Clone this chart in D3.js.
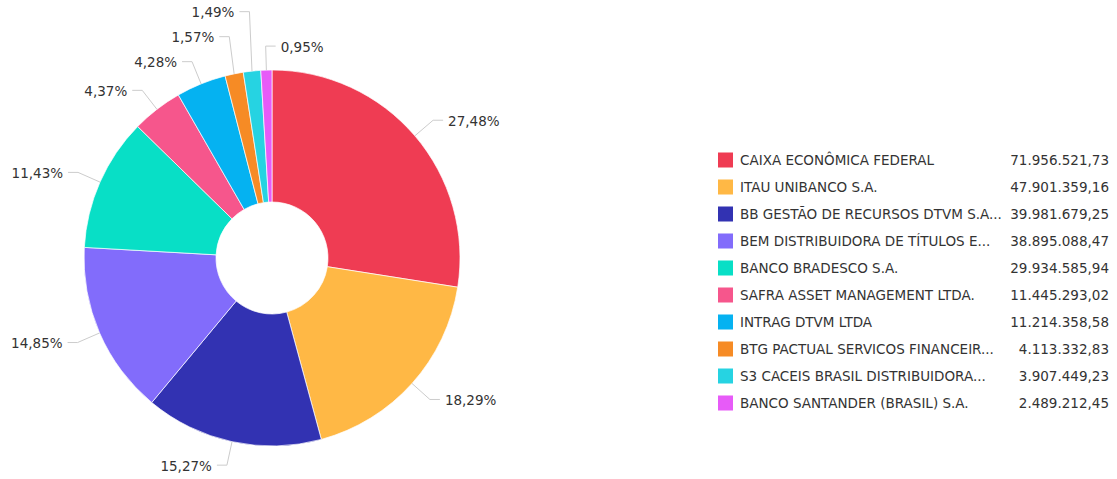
<!DOCTYPE html>
<html>
<head>
<meta charset="utf-8">
<script src="https://cdn.jsdelivr.net/npm/d3@7"></script>
<style>
  body { margin: 0; background: #fff; }
  svg { font-family: "DejaVu Sans", Verdana, sans-serif; }
</style>
</head>
<body>
<svg id="chart"></svg>
<script>
// data
const names = [
  'CAIXA ECONÔMICA FEDERAL',
  'ITAU UNIBANCO S.A.',
  'BB GESTÃO DE RECURSOS DTVM S.A...',
  'BEM DISTRIBUIDORA DE TÍTULOS E...',
  'BANCO BRADESCO S.A.',
  'SAFRA ASSET MANAGEMENT LTDA.',
  'INTRAG DTVM LTDA',
  'BTG PACTUAL SERVICOS FINANCEIR...',
  'S3 CACEIS BRASIL DISTRIBUIDORA...',
  'BANCO SANTANDER (BRASIL) S.A.'
];
const values = [
  71956521.73, 47901359.16, 39981679.25, 38895088.47, 29934585.94,
  11445293.02, 11214358.58, 4113332.83, 3907449.23, 2489212.45
];
const colors = [
  '#ef3c53', '#ffb845', '#3232b2', '#826cfb', '#08dfc6',
  '#f6568c', '#05b2f1', '#f68b25', '#26d3e2', '#e75bf8'
];

const config = {
  width: 1117,
  height: 479,
  cx: 272,
  cy: 258,
  outerR: 188,
  innerR: 56,
  lineLen1: 24,   // radial part of the label line
  lineLen2: 10,   // horizontal part
  textPad: 5,
  minLabelGap: 25,
  legend: { x: 718, y: 160, step: 27, box: 15, textX: 740, valueX: 1109 }
};

const ptBR = d3.formatLocale({ decimal: ',', thousands: '.', grouping: [3], currency: ['R$ ', ''] });
const fmtValue = ptBR.format(',.2f');
const fmtPct = ptBR.format('.2f');

const data = names.map((n, i) => ({ name: n, value: values[i], color: colors[i] }));
const total = d3.sum(values);

const svg = d3.select('#chart')
  .attr('width', config.width)
  .attr('height', config.height);

const pie = d3.pie().sort(null).value(d => d.value);
const arc = d3.arc().innerRadius(config.innerR).outerRadius(config.outerR);
const arcs = pie(data);

const chart = svg.append('g')
  .attr('transform', `translate(${config.cx},${config.cy})`);

chart.selectAll('path.slice')
  .data(arcs)
  .join('path')
  .attr('class', 'slice')
  .attr('d', arc)
  .attr('fill', d => d.data.color)
  .attr('stroke', '#fff')
  .attr('stroke-width', 0.7);

// label positions (relative to centre)
const labels = arcs.map(d => {
  const mid = (d.startAngle + d.endAngle) / 2;
  const s = Math.sin(mid), c = Math.cos(mid);
  const r1 = config.outerR, r2 = config.outerR + config.lineLen1;
  return {
    arc: d,
    side: s > -0.05 ? 1 : -1,
    x0: r1 * s, y0: -r1 * c,
    x1: r2 * s, y1: -r2 * c,
    text: fmtPct(d.data.value / total * 100) + '%'
  };
});

// push overlapping labels upward, working from the bottom of each side
[1, -1].forEach(side => {
  const group = labels.filter(l => l.side === side).sort((a, b) => b.y1 - a.y1);
  for (let i = 1; i < group.length; i++) {
    const limit = group[i - 1].y1 - config.minLabelGap;
    if (group[i].y1 > limit) group[i].y1 = limit;
  }
});

chart.selectAll('polyline.label-line')
  .data(labels)
  .join('polyline')
  .attr('class', 'label-line')
  .attr('fill', 'none')
  .attr('stroke', '#cccccc')
  .attr('stroke-width', 1)
  .attr('points', d => [
    [d.x0, d.y0],
    [d.x1, d.y1],
    [d.x1 + d.side * config.lineLen2, d.y1]
  ].map(p => p.join(',')).join(' '));

chart.selectAll('text.label')
  .data(labels)
  .join('text')
  .attr('class', 'label')
  .attr('x', d => d.x1 + d.side * (config.lineLen2 + config.textPad))
  .attr('y', d => d.y1 + 1)
  .attr('dy', '0.35em')
  .attr('text-anchor', d => d.side > 0 ? 'start' : 'end')
  .attr('fill', '#333')
  .style('font-size', '13.5px')
  .text(d => d.text);

// legend
const lg = config.legend;
const legend = svg.append('g').attr('class', 'legend');
const rows = legend.selectAll('g.row')
  .data(data)
  .join('g')
  .attr('class', 'row')
  .attr('transform', (d, i) => `translate(0,${lg.y + i * lg.step})`);

rows.append('rect')
  .attr('x', lg.x)
  .attr('y', -lg.box / 2)
  .attr('width', lg.box)
  .attr('height', lg.box)
  .attr('fill', d => d.color);

rows.append('text')
  .attr('x', lg.textX)
  .attr('dy', '0.35em')
  .attr('fill', '#333')
  .style('font-size', '13.5px')
  .text(d => d.name);

rows.append('text')
  .attr('x', lg.valueX)
  .attr('dy', '0.35em')
  .attr('text-anchor', 'end')
  .attr('fill', '#333')
  .style('font-size', '13.5px')
  .text(d => fmtValue(d.value));
</script>
</body>
</html>
